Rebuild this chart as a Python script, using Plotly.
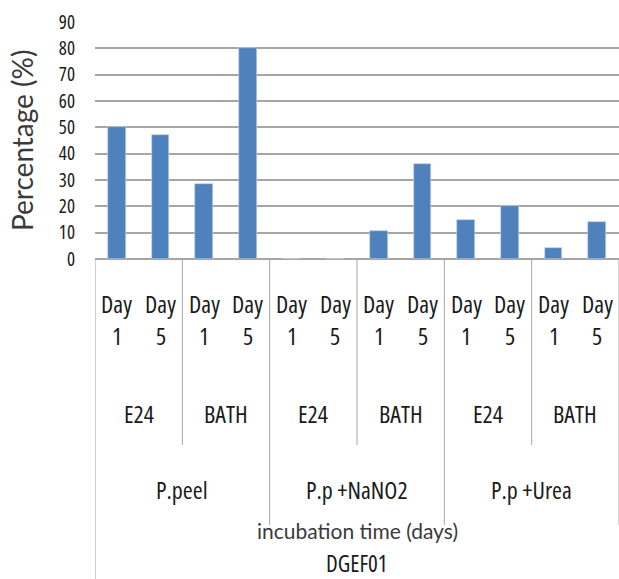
import plotly.graph_objects as go

# Emulsification values, one bar per (treatment, method, day)
treatments = ["P.peel", "P.p +NaNO2", "P.p +Urea"]
methods = ["E24", "BATH"]
day_words = ["Day", "Day"]
day_numbers = ["1", "5"]
values = [50, 47, 28.5, 80, 0, 0, 10.6, 36, 15, 20, 4, 14]
y_ticks = [0, 10, 20, 30, 40, 50, 60, 70, 80, 90]
x_title = "incubation time (days)"
strain = "DGEF01"
y_title = "Percentage (%)"

W, H = 619, 579
L, R, T, B = 95, 0, 22, 320
plot_h = H - T - B

NARROW = "Open Sans"
LBL = 24
GRID = "#a6a6a6"
TEXT = "#1a1a1a"


def cond(s, stretch="75%"):
    """Condensed-width text span."""
    return "<span style='font-stretch:" + stretch + "'>" + s + "</span>"


def below(px):
    """Paper y-coordinate for a distance in pixels below the x axis."""
    return -px / plot_h


def label(x, px, text, size=LBL):
    return dict(x=x, y=below(px), xref="x", yref="paper", text=cond(text),
                showarrow=False, font=dict(family=NARROW, size=size, color=TEXT),
                yanchor="middle")


n = len(values)
xs = list(range(n))

fig = go.Figure(
    go.Bar(
        x=xs,
        y=values,
        width=0.41,
        marker=dict(color="#4f81bd", line=dict(color="#c6d5ea", width=0.6)),
        showlegend=False,
    )
)

annotations = []
shapes = []

# Day rows under every bar
for i in xs:
    d = i % len(day_numbers)
    annotations.append(label(i, 44, day_words[d]))
    annotations.append(label(i, 76, day_numbers[d]))

# Method and treatment rows with their separators
per_method = len(day_numbers)
per_treat = per_method * len(methods)
for t in range(len(treatments)):
    for m in range(len(methods)):
        start = t * per_treat + m * per_method
        annotations.append(label(start + (per_method - 1) / 2, 154, methods[m]))
        if m > 0:
            shapes.append(dict(type="line", xref="x", yref="paper", x0=start - 0.5, x1=start - 0.5,
                               y0=0, y1=below(186), line=dict(color=GRID, width=1)))
    annotations.append(label(t * per_treat + (per_treat - 1) / 2, 231, treatments[t]))

for t in range(len(treatments) + 1):
    xb = t * per_treat - 0.5
    shapes.append(dict(type="line", xref="x", yref="paper", x0=xb, x1=xb,
                       y0=0, y1=below(320 if t == 0 else 266), line=dict(color=GRID, width=1)))

# Axis titles
annotations.append(dict(x=(n - 1) / 2, y=below(271), xref="x", yref="paper", text=x_title,
                        showarrow=False, font=dict(family="Lato, sans-serif", size=21, color="#3a3a3a"),
                        yanchor="middle"))
annotations.append(label((n - 1) / 2, 304, strain, size=23))
annotations.append(dict(x=(22 - L) / (W - L - R), y=(plot_h - (141 - T)) / plot_h,
                        xref="paper", yref="paper", text=y_title, textangle=-90,
                        showarrow=False, font=dict(family="Lato, sans-serif", size=28, color="#3a3a3a"),
                        xanchor="center", yanchor="middle"))

fig.update_layout(
    width=W,
    height=H,
    margin=dict(l=L, r=R, t=T, b=B, pad=0),
    paper_bgcolor="white",
    plot_bgcolor="white",
    bargap=0,
    xaxis=dict(range=[-0.5, n - 0.5], showticklabels=False, showgrid=False,
               zeroline=False, showline=False, ticks=""),
    yaxis=dict(range=[0, 90], tickvals=y_ticks, ticktext=[cond(str(v), "87.5%") for v in y_ticks],
               showgrid=True, gridcolor=GRID, gridwidth=1.5,
               zeroline=True, zerolinecolor=GRID, zerolinewidth=1.5, showline=False,
               ticks="", ticklabelstandoff=19,
               tickfont=dict(family=NARROW, size=19, color=TEXT)),
    annotations=annotations,
    shapes=shapes,
)

fig.write_html("out.html")
